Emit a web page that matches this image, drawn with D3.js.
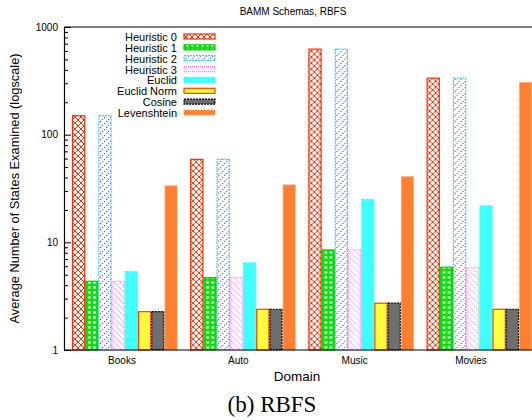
<!DOCTYPE html>
<html>
<head>
<meta charset="utf-8">
<script src="https://cdn.jsdelivr.net/npm/d3@7"></script>
<style>
  body { margin: 0; background: #fff; }
  text { font-family: "Liberation Sans", Arial, sans-serif; }
</style>
</head>
<body>
<div id="chart"></div>
<script>
var domains = ['Books', 'Auto', 'Music', 'Movies']
var series = ['Heuristic 0', 'Heuristic 1', 'Heuristic 2', 'Heuristic 3', 'Euclid', 'Euclid Norm', 'Cosine', 'Levenshtein']

var heuristic0 = [150, 59, 623, 335]
var heuristic1 = [4.35, 4.7, 8.5, 5.87]
var heuristic2 = [150, 59, 623, 335]
var heuristic3 = [4.35, 4.7, 8.5, 5.87]
var euclid = [5.34, 6.44, 24.9, 21.8]
var euclidNorm = [2.27, 2.39, 2.72, 2.39]
var cosine = [2.27, 2.39, 2.72, 2.39]
var levenshtein = [33.4, 34.2, 40.8, 305]

var yTicks = [1, 10, 100, 1000]

var values = [heuristic0, heuristic1, heuristic2, heuristic3, euclid, euclidNorm, cosine, levenshtein]

var w = 532, h = 420
var margin = { top: 27, left: 64, bottom: 70 }
var plotBottom = h - margin.bottom

var svg = d3.select('#chart').append('svg')
  .attr('width', w)
  .attr('height', h)

// bar styles, gnuplot-like fill patterns
var styles = [
  { fill: 'url(#p0)', stroke: '#ff2a00', dash: null },
  { fill: 'url(#p1)', stroke: '#00d000', dash: null },
  { fill: 'url(#p2)', stroke: '#40c8ff', dash: '2,1' },
  { fill: 'url(#p3)', stroke: '#ff80ff', dash: '1,1' },
  { fill: '#40ffff', stroke: '#40ffff', dash: '3,1' },
  { fill: '#ffff40', stroke: '#ff4000', dash: null },
  { fill: '#6e6e6e', stroke: '#000', dash: '2,1' },
  { fill: '#ff8030', stroke: '#ffa060', dash: '1,1' }
]

var defs = svg.append('defs')

var p0 = defs.append('pattern').attr('id', 'p0').attr('patternUnits', 'userSpaceOnUse')
  .attr('width', 6).attr('height', 6)
p0.append('rect').attr('width', 6).attr('height', 6).attr('fill', '#fff')
p0.append('path').attr('d', 'M0,0L6,6M6,0L0,6').attr('stroke', '#ff2a00').attr('stroke-width', 1)

var p1 = defs.append('pattern').attr('id', 'p1').attr('patternUnits', 'userSpaceOnUse')
  .attr('width', 5).attr('height', 5)
p1.append('rect').attr('width', 5).attr('height', 5).attr('fill', '#10dd10')
p1.append('circle').attr('cx', 2.5).attr('cy', 2.5).attr('r', 1.4).attr('fill', '#e0ffe0')

var p2 = defs.append('pattern').attr('id', 'p2').attr('patternUnits', 'userSpaceOnUse')
  .attr('width', 6).attr('height', 6)
p2.append('rect').attr('width', 6).attr('height', 6).attr('fill', '#fff')
p2.append('path').attr('d', 'M0,6L6,0').attr('stroke', '#2050ff').attr('stroke-width', 1.1)
  .attr('stroke-dasharray', '1.2,1.8')

var p3 = defs.append('pattern').attr('id', 'p3').attr('patternUnits', 'userSpaceOnUse')
  .attr('width', 6).attr('height', 6)
p3.append('rect').attr('width', 6).attr('height', 6).attr('fill', '#fff')
p3.append('path').attr('d', 'M0,0L6,6').attr('stroke', '#ff90ff').attr('stroke-width', 0.8)

// scales: group step 118.2px, 8 bars per group
var x = d3.scaleBand()
  .domain(domains)
  .range([65.7, 65.7 + 118.2 * 4])
  .paddingInner(0.1066)
  .paddingOuter(0.0533)

var x1 = d3.scaleBand()
  .domain(series)
  .range([0, x.bandwidth()])

var xLabel = d3.scalePoint()
  .domain(domains)
  .range([122, 471])

var y = d3.scaleLog()
  .domain([1, 1000])
  .range([plotBottom, margin.top])

// bars
var groups = svg.selectAll('.group')
  .data(domains)
  .enter().append('g')
  .attr('class', 'group')
  .attr('transform', function(d) { return 'translate(' + x(d) + ',0)' })

groups.selectAll('rect')
  .data(function(d, i) { return series.map(function(s, j) { return { s: s, j: j, v: values[j][i] } }) })
  .enter().append('rect')
  .attr('x', function(d) { return x1(d.s) + 0.5 })
  .attr('width', x1.bandwidth() - 1)
  .attr('y', function(d) { return y(d.v) })
  .attr('height', function(d) { return plotBottom - y(d.v) })
  .attr('fill', function(d) { return styles[d.j].fill })
  .attr('stroke', function(d) { return styles[d.j].stroke })
  .attr('stroke-width', 1.2)
  .attr('stroke-dasharray', function(d) { return styles[d.j].dash })

// axes frame
svg.append('line').attr('x1', margin.left).attr('x2', w).attr('y1', margin.top).attr('y2', margin.top)
  .attr('stroke', '#000').attr('stroke-width', 1.2)
svg.append('line').attr('x1', margin.left).attr('x2', w).attr('y1', plotBottom).attr('y2', plotBottom)
  .attr('stroke', '#000').attr('stroke-width', 1.2)

var yAxis = svg.append('g')
  .attr('transform', 'translate(' + margin.left + ',0)')
  .call(d3.axisRight(y).tickValues(yTicks).tickSize(7).tickFormat(''))
yAxis.select('.domain').attr('stroke-width', 1.2)

var minor = []
for (var k = 0; k < 3; k++) {
  for (var m = 2; m < 10; m++) minor.push(m * Math.pow(10, k))
}
svg.append('g')
  .attr('transform', 'translate(' + margin.left + ',0)')
  .call(d3.axisRight(y).tickValues(minor).tickSize(4).tickFormat(''))
  .select('.domain').remove()

svg.selectAll('.ylab')
  .data(yTicks)
  .enter().append('text')
  .attr('class', 'ylab')
  .attr('x', margin.left - 6)
  .attr('y', function(d) { return y(d) + 3.5 })
  .attr('text-anchor', 'end')
  .style('font-size', '10px')
  .text(function(d) { return d })

svg.selectAll('.xlab')
  .data(domains)
  .enter().append('text')
  .attr('class', 'xlab')
  .attr('x', function(d) { return xLabel(d) })
  .attr('y', plotBottom + 14)
  .attr('text-anchor', 'middle')
  .style('font-size', '10px')
  .text(function(d) { return d })

// titles
svg.append('text').attr('x', 293).attr('y', 15).attr('text-anchor', 'middle')
  .style('font-size', '10px').text('BAMM Schemas, RBFS')

svg.append('text').attr('x', 297).attr('y', 381).attr('text-anchor', 'middle')
  .style('font-size', '13.5px').text('Domain')

svg.append('text')
  .attr('transform', 'translate(19,' + ((margin.top + plotBottom) / 2) + ') rotate(-90)')
  .attr('text-anchor', 'middle')
  .style('font-size', '12.8px')
  .text('Average Number of States Examined (logscale)')

svg.append('text').attr('x', 272).attr('y', 412).attr('text-anchor', 'middle')
  .style('font-family', '"Liberation Serif", "DejaVu Serif", serif')
  .style('font-size', '23px').text('(b) RBFS')

// legend
var legend = svg.selectAll('.legend')
  .data(series)
  .enter().append('g')
  .attr('class', 'legend')
  .attr('transform', function(d, i) { return 'translate(0,' + (37 + i * 10.86) + ')' })

legend.append('text')
  .attr('x', 177)
  .attr('y', 4)
  .attr('text-anchor', 'end')
  .style('font-size', '11px')
  .text(function(d) { return d })

legend.append('rect')
  .attr('x', 184)
  .attr('y', -3)
  .attr('width', 31)
  .attr('height', 5)
  .attr('fill', function(d, i) { return styles[i].fill })
  .attr('stroke', function(d, i) { return styles[i].stroke })
  .attr('stroke-width', 1.2)
  .attr('stroke-dasharray', function(d, i) { return styles[i].dash })
</script>
</body>
</html>
